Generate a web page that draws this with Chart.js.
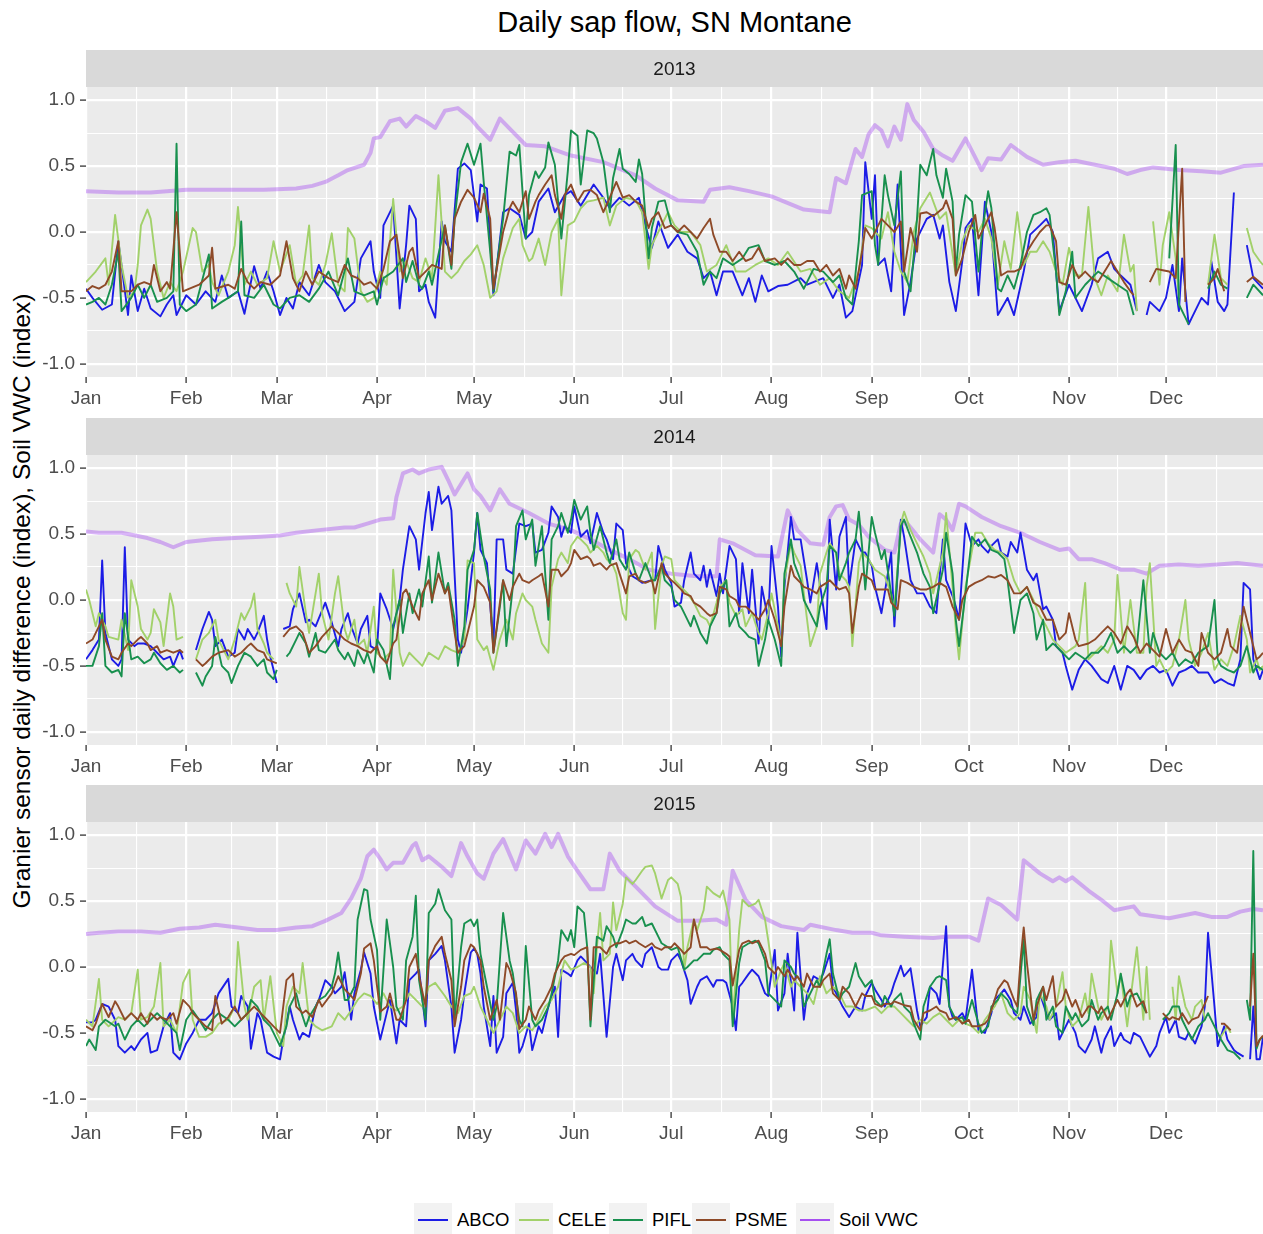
<!DOCTYPE html>
<html>
<head>
<meta charset="utf-8">
<title>Daily sap flow, SN Montane</title>
<script src="https://cdn.jsdelivr.net/npm/chart.js@4.4.1/dist/chart.umd.min.js"></script>
<style>
  html, body { margin: 0; padding: 0; background: #ffffff; }
  body { position: relative; width: 1263px; height: 1234px; overflow: hidden;
         font-family: "Liberation Sans", Arial, sans-serif; }
  canvas { position: absolute; left: 0; }
  #title { position: absolute; left: 86px; width: 1177px; top: 5px; line-height: 34px;
           text-align: center; font-size: 29px; color: #000; white-space: nowrap; }
  #ylab { position: absolute; left: -378px; top: 587px; width: 800px; height: 28px; line-height: 28px;
          text-align: center; font-size: 24.5px; color: #000; transform: rotate(-90deg); white-space: nowrap; }
  .key { position: absolute; top: 1203px; width: 38px; height: 34px; background: #F2F2F2; }
  .key span { position: absolute; left: 4px; width: 30px; top: 16px; height: 2.4px; }
  .lab { position: absolute; top: 1203px; height: 34px; line-height: 34px; font-size: 18.5px; color: #000; white-space: nowrap; }
</style>
</head>
<body>
<div id="title">Daily sap flow, SN Montane</div>
<div id="ylab">Granier sensor daily difference (index), Soil VWC (index)</div>
<canvas id="p2013" width="1263" height="362" style="top:50px"></canvas>
<canvas id="p2014" width="1263" height="362" style="top:418px"></canvas>
<canvas id="p2015" width="1263" height="362" style="top:785px"></canvas>
<div id="legend"></div>

<script>
// ---- axis breaks -------------------------------------------------------
const MONTHS = ['Jan','Feb','Mar','Apr','May','Jun','Jul','Aug','Sep','Oct','Nov','Dec'];
const MONTH_START = [0,31,59,90,120,151,181,212,243,273,304,334];
const MONTH_MID = [15.5,45,74.5,105,135.5,166,196.5,227.5,258,288.5,319,349.5];
const Y_TICKS = [-1,-0.75,-0.5,-0.25,0,0.25,0.5,0.75,1];
const YEARS = ['2013','2014','2015'];
const SERIES = ['ABCO','CELE','PIFL','PSME','Soil VWC'];

// ---- daily values: [day of year (0 = Jan 1), index]; null marks missing days ----
const abco2013 = [[0,-0.43],[2,-0.5],[5,-0.59],[8,-0.55],[10,-0.07],[13,-0.63],[14,-0.33],[16,-0.6],[18,-0.43],[20,-0.58],[23,-0.64],[25,-0.55],[27,-0.48],[28,-0.63],[31,-0.48],[34,-0.55],[37,-0.45],[40,-0.53],[42,-0.33],[44,-0.5],[47,-0.45],[49,-0.62],[52,-0.26],[54,-0.43],[56,-0.3],[58,-0.45],[60,-0.63],[62,-0.5],[64,-0.58],[66,-0.38],[69,-0.48],[72,-0.25],[74,-0.38],[77,-0.45],[80,-0.6],[83,-0.53],[85,-0.2],[88,-0.07],[89,-0.3],[91,-0.5],[92,0.05],[95,0.2],[97,-0.58],[99,-0.1],[100,0.2],[102,0.1],[103,-0.45],[105,-0.4],[106,-0.53],[108,-0.65],[110,0.08],[111,-0.07],[113,-0.15],[115,0.48],[117,0.52],[119,0.47],[121,0.08],[122,0.36],[124,0.33],[126,-0.48],[129,0.15],[131,0.18],[134,0.13],[136,-0.05],[138,0],[140,0.23],[143,0.33],[145,0.15],[148,0.28],[150,0.31],[153,0.2],[157,0.36],[160,0.26],[162,0.18],[165,0.26],[168,0.2],[171,0.26],[173,0.05],[175,-0.12],[177,0.08],[180,-0.12],[183,-0.02],[186,-0.15],[189,-0.2],[191,-0.35],[193,-0.3],[195,-0.48],[197,-0.3],[200,-0.3],[203,-0.48],[205,-0.35],[207,-0.53],[209,-0.33],[211,-0.45],[214,-0.41],[217,-0.4],[221,-0.35],[223,-0.4],[228,-0.35],[231,-0.5],[233,-0.4],[235,-0.65],[237,-0.6],[240,-0.25],[241,0.53],[243,0.1],[244,0.43],[245,-0.25],[247,-0.2],[249,-0.45],[251,0.36],[253,-0.63],[255,-0.38],[257,-0.05],[260,0.1],[262,0.13],[264,-0.05],[265,0.05],[267,-0.38],[269,-0.6],[271,-0.22],[272,0.03],[274,0.1],[276,-0.48],[278,0.23],[280,0],[282,-0.63],[285,-0.5],[287,-0.63],[290,-0.3],[292,-0.02],[295,0.05],[297,0.1],[299,0],[301,-0.6],[304,-0.4],[306,-0.5],[308,-0.6],[311,-0.4],[313,-0.2],[316,-0.15],[318,-0.28],[320,-0.33],[323,-0.4],[325,-0.6],[326,null],[328,-0.63],[329,-0.53],[332,-0.6],[334,-0.5],[336,-0.25],[338,-0.6],[339,-0.2],[341,-0.7],[342,-0.65],[345,-0.5],[347,-0.55],[348,-0.22],[350,-0.53],[352,-0.6],[353,-0.55],[355,0.3],[357,null],[359,-0.1],[361,-0.35],[364,-0.43]];
const cele2013 = [[0,-0.38],[3,-0.3],[6,-0.2],[7,-0.4],[9,0.13],[11,-0.25],[13,-0.5],[15,-0.45],[16,-0.25],[17,0.05],[19,0.17],[20,0.1],[22,-0.3],[24,-0.5],[26,-0.38],[28,-0.45],[30,-0.3],[33,0.03],[34,0],[36,-0.3],[38,-0.25],[39,-0.38],[41,-0.48],[44,-0.3],[46,-0.1],[47,0.19],[49,-0.4],[51,-0.3],[53,-0.4],[56,-0.35],[58,-0.07],[60,-0.3],[63,-0.1],[65,-0.4],[67,-0.33],[69,0.05],[70,-0.35],[72,-0.4],[74,-0.25],[76,-0.01],[78,-0.4],[80,-0.45],[81,0.03],[83,-0.05],[85,-0.45],[87,-0.53],[89,-0.5],[91,-0.3],[93,-0.4],[95,0.25],[97,-0.3],[99,-0.22],[101,-0.35],[103,-0.38],[105,-0.2],[107,-0.35],[109,0.43],[111,-0.3],[113,-0.35],[115,-0.3],[117,-0.22],[119,-0.17],[121,-0.1],[123,-0.25],[125,-0.5],[127,-0.45],[129,-0.2],[132,0.03],[134,0.1],[135,-0.1],[137,-0.22],[138,-0.2],[140,-0.05],[142,-0.25],[144,0],[146,0.1],[147,-0.48],[149,0.05],[151,0.08],[153,0.18],[155,0.23],[157,0.24],[160,0.26],[162,0.05],[164,0.2],[167,0.26],[170,0.24],[172,0.15],[174,-0.28],[175,-0.1],[177,0],[180,0.15],[182,0.05],[184,0],[187,0],[190,-0.1],[192,-0.3],[195,-0.25],[198,-0.1],[201,-0.3],[204,-0.3],[207,-0.25],[211,-0.2],[214,-0.25],[217,-0.15],[221,-0.3],[224,-0.28],[227,-0.4],[230,-0.35],[233,-0.45],[236,-0.5],[239,-0.3],[241,0.05],[243,0.03],[246,-0.05],[248,0.15],[250,-0.15],[252,-0.3],[254,-0.38],[256,0],[258,0.18],[261,0.3],[264,0.1],[266,0.15],[269,-0.33],[271,-0.07],[273,0.05],[276,0],[278,0.1],[280,-0.05],[282,-0.4],[284,-0.07],[286,-0.28],[288,0.15],[290,-0.25],[292,-0.15],[294,-0.15],[296,-0.07],[298,-0.15],[300,-0.3],[302,-0.4],[304,-0.12],[306,-0.33],[308,-0.33],[310,0.19],[312,-0.35],[314,-0.48],[316,-0.33],[319,-0.45],[321,-0.02],[323,-0.3],[324,-0.25],[325,-0.6],[326,null],[330,0.08],[332,-0.4],[333,-0.1],[335,0.15],[337,-0.2],[338,-0.5],[340,null],[347,-0.4],[349,-0.02],[351,-0.35],[353,-0.4],[355,null],[359,0.03],[361,-0.15],[363,-0.22],[364,-0.25]];
const pifl2013 = [[0,-0.55],[2,-0.53],[4,-0.5],[6,-0.55],[8,-0.4],[10,-0.15],[11,-0.6],[14,-0.5],[16,-0.4],[18,-0.5],[20,-0.4],[22,-0.53],[25,-0.5],[27,-0.45],[28,0.67],[29,-0.55],[31,-0.6],[34,-0.55],[38,-0.17],[39,-0.58],[42,-0.53],[44,-0.5],[47,-0.45],[48,0.08],[49,-0.48],[52,-0.5],[55,-0.4],[58,-0.55],[60,-0.58],[63,-0.5],[66,-0.48],[69,-0.53],[72,-0.43],[75,-0.3],[78,-0.48],[81,-0.2],[83,-0.45],[86,-0.48],[89,-0.45],[90,-0.55],[92,-0.35],[95,-0.3],[98,-0.2],[99,-0.38],[101,-0.22],[103,-0.4],[104,-0.43],[106,-0.3],[107,-0.4],[109,-0.17],[111,0.05],[113,-0.28],[114,0.1],[116,0.53],[118,0.67],[120,0.51],[122,0.67],[123,0.38],[125,-0.15],[126,-0.45],[129,0.1],[131,0.61],[133,0.58],[134,0.66],[136,-0.05],[137,0.28],[139,0.46],[140,0.41],[142,0.49],[143,0.68],[145,0.51],[147,-0.05],[149,0.46],[150,0.77],[152,0.73],[153,0.36],[155,0.77],[157,0.75],[158,0.71],[160,0.53],[162,0.15],[163,0.41],[165,0.63],[166,0.48],[168,0.44],[170,0.38],[171,0.55],[172,0.44],[174,-0.2],[175,0.03],[177,0.23],[179,0.24],[181,0.05],[183,0],[186,-0.02],[189,-0.15],[191,-0.4],[193,-0.3],[195,-0.35],[197,-0.2],[200,-0.25],[203,-0.2],[205,-0.12],[208,-0.1],[210,-0.22],[213,-0.25],[216,-0.22],[219,-0.3],[222,-0.43],[225,-0.28],[228,-0.3],[231,-0.38],[233,-0.33],[235,-0.5],[237,-0.55],[239,-0.07],[240,0.28],[243,0.31],[244,-0.1],[245,-0.25],[247,0.43],[248,0.28],[250,0.05],[252,0.46],[253,-0.3],[255,-0.45],[257,0.1],[258,0.51],[260,0.43],[262,0.63],[263,0.43],[265,0.26],[266,0.48],[268,0.23],[269,-0.3],[270,-0.02],[272,0.28],[274,0.23],[276,-0.3],[277,-0.02],[279,0.31],[280,0.18],[282,-0.43],[283,-0.45],[285,-0.33],[287,-0.43],[289,-0.25],[291,0],[293,0.13],[295,0.15],[297,0.18],[298,0.13],[300,-0.3],[301,-0.63],[303,-0.45],[305,-0.15],[306,-0.5],[309,-0.4],[313,-0.3],[316,-0.35],[319,-0.4],[322,-0.45],[324,-0.63],[325,null],[335,-0.2],[337,0.66],[338,-0.55],[340,-0.65],[341,-0.7],[343,null],[347,-0.43],[349,-0.3],[351,-0.4],[353,-0.43],[355,null],[359,-0.5],[361,-0.4],[364,-0.48]];
const psme2013 = [[0,-0.45],[2,-0.41],[4,-0.43],[6,-0.4],[8,-0.3],[10,-0.07],[11,-0.45],[14,-0.45],[16,-0.4],[18,-0.38],[20,-0.4],[21,-0.25],[23,-0.45],[25,-0.38],[26,-0.43],[28,0.15],[30,-0.45],[32,-0.43],[35,-0.4],[38,-0.33],[39,-0.12],[40,-0.43],[44,-0.4],[46,-0.43],[48,-0.28],[50,-0.38],[52,-0.43],[54,-0.38],[57,-0.4],[60,-0.33],[62,-0.07],[64,-0.35],[66,-0.45],[68,-0.3],[70,-0.4],[72,-0.3],[75,-0.35],[78,-0.38],[80,-0.25],[82,-0.33],[84,-0.35],[86,-0.4],[88,-0.38],[90,-0.43],[92,-0.28],[94,-0.07],[96,-0.02],[98,-0.35],[100,-0.15],[101,-0.12],[103,-0.35],[105,-0.3],[107,-0.25],[110,-0.28],[111,0.05],[113,-0.25],[114,0.1],[116,0.23],[118,0.32],[120,0.26],[122,0.15],[123,0.29],[125,0.1],[126,-0.43],[129,0],[131,0.18],[132,0.23],[134,0.15],[136,0.31],[137,0.1],[139,0.23],[140,0.28],[142,0.36],[144,0.43],[145,0.28],[147,0.1],[148,0.28],[150,0.36],[152,0.23],[154,0.31],[156,0.32],[158,0.28],[160,0.15],[162,0.26],[164,0.38],[166,0.26],[168,0.28],[170,0.23],[172,0.2],[174,0.03],[175,0.1],[177,0.15],[179,0.03],[181,0.05],[183,0],[185,0.05],[187,0],[189,-0.05],[191,0.03],[193,0.1],[194,-0.02],[196,-0.15],[198,-0.15],[200,-0.22],[202,-0.15],[204,-0.22],[206,-0.2],[208,-0.12],[210,-0.22],[213,-0.2],[215,-0.25],[217,-0.2],[219,-0.25],[221,-0.25],[223,-0.22],[225,-0.22],[227,-0.3],[229,-0.25],[231,-0.33],[233,-0.28],[235,-0.43],[236,-0.33],[238,-0.43],[240,-0.15],[241,0.03],[243,-0.05],[246,0.1],[248,0.05],[250,0],[252,0.08],[253,-0.3],[255,0.03],[257,-0.15],[258,0.14],[260,0.15],[262,0.12],[265,0.18],[266,0.24],[268,0.1],[269,-0.33],[271,-0.2],[273,0],[275,0.13],[276,-0.05],[278,0.05],[280,0.15],[281,0.03],[283,-0.33],[285,-0.3],[287,-0.3],[289,-0.28],[291,-0.15],[293,-0.07],[295,0],[297,0.05],[298,0.05],[300,-0.07],[301,-0.38],[303,-0.4],[305,-0.25],[307,-0.35],[309,-0.3],[311,-0.35],[313,-0.38],[315,-0.3],[317,-0.22],[319,-0.3],[321,-0.38],[323,-0.45],[324,-0.48],[326,null],[329,-0.38],[331,-0.28],[333,-0.29],[335,-0.3],[337,-0.35],[339,0.48],[340,-0.53],[342,null],[347,-0.4],[349,-0.35],[350,-0.28],[352,-0.45],[354,null],[359,-0.38],[361,-0.34],[364,-0.4]];
const vwc2013 = [[0,0.31],[10,0.3],[20,0.3],[25,0.31],[31,0.32],[45,0.32],[55,0.32],[65,0.33],[70,0.35],[74,0.38],[78,0.43],[81,0.47],[86,0.51],[88,0.6],[89,0.71],[91,0.72],[94,0.84],[97,0.86],[99,0.8],[102,0.88],[105,0.84],[108,0.79],[111,0.92],[115,0.94],[117,0.9],[119,0.86],[121,0.8],[125,0.7],[128,0.86],[132,0.76],[136,0.66],[142,0.65],[150,0.58],[160,0.53],[170,0.43],[176,0.33],[183,0.24],[191,0.23],[193,0.32],[199,0.34],[205,0.31],[212,0.27],[222,0.17],[230,0.15],[232,0.41],[235,0.37],[238,0.63],[240,0.57],[242,0.74],[244,0.81],[246,0.77],[248,0.65],[250,0.8],[252,0.7],[254,0.97],[256,0.85],[259,0.76],[262,0.63],[265,0.58],[268,0.54],[272,0.71],[277,0.47],[279,0.56],[283,0.55],[286,0.66],[291,0.57],[296,0.51],[301,0.53],[306,0.54],[312,0.51],[318,0.48],[322,0.44],[326,0.47],[330,0.49],[338,0.47],[345,0.46],[351,0.45],[358,0.5],[364,0.51]];

const abco2014 = [[0,-0.45],[2,-0.38],[4,-0.3],[5,0.3],[6,-0.25],[8,-0.45],[10,-0.5],[11,-0.45],[12,0.4],[13,-0.3],[15,-0.35],[16,-0.33],[18,-0.33],[20,-0.35],[22,-0.4],[24,-0.45],[26,-0.43],[27,-0.5],[29,-0.38],[30,-0.45],[31,null],[34,-0.38],[36,-0.22],[38,-0.09],[39,-0.15],[40,-0.35],[42,-0.3],[44,-0.43],[46,-0.4],[47,-0.22],[49,-0.3],[50,-0.22],[52,-0.3],[53,-0.25],[55,-0.12],[56,-0.3],[57,-0.43],[59,-0.63],[60,null],[61,-0.22],[63,-0.2],[64,-0.07],[66,0.05],[68,-0.17],[69,-0.15],[71,-0.2],[74,-0.02],[76,-0.17],[78,-0.35],[79,-0.22],[81,-0.1],[82,-0.2],[84,-0.33],[85,-0.22],[87,-0.12],[88,-0.35],[90,-0.38],[91,0.05],[93,-0.07],[95,-0.22],[97,0],[98,0.23],[100,0.56],[102,0.46],[103,0.23],[105,0.66],[106,0.82],[107,0.53],[109,0.86],[110,0.73],[112,0.79],[113,0.68],[115,-0.3],[116,-0.4],[118,-0.07],[120,0.36],[121,0.66],[122,0.38],[124,0.28],[126,-0.35],[127,0.46],[129,0.46],[130,0.23],[132,0.2],[134,0.58],[136,0.56],[138,0.58],[139,0.36],[141,0.38],[143,0.51],[144,0.71],[146,0.63],[147,0.48],[148,0.56],[150,0.51],[151,0.71],[153,0.48],[155,0.53],[156,0.43],[158,0.66],[160,0.51],[161,0.46],[163,0.31],[164,0.58],[166,0.53],[167,0.28],[169,0.18],[171,0.15],[172,0.13],[175,0.15],[176,0.15],[177,0.41],[179,0.23],[181,0.13],[182,-0.05],[184,-0.02],[185,0.15],[187,0.36],[188,0.2],[190,0.15],[191,0.26],[192,0.1],[193,0.23],[195,0.03],[196,0.2],[197,0.05],[199,0.41],[201,0.31],[202,-0.1],[203,0.28],[205,-0.1],[206,0.23],[208,-0.33],[209,0.1],[211,-0.15],[212,0.41],[214,-0.05],[215,-0.43],[216,0.1],[218,0.63],[219,0.46],[221,0.46],[223,0.15],[224,-0.02],[226,0.28],[228,-0.05],[229,-0.22],[230,0.61],[232,0.08],[233,0.48],[235,0.63],[236,0.1],[238,0.46],[240,0.36],[241,0.36],[243,0.26],[244,0.1],[246,-0.1],[247,0.05],[249,0.36],[250,-0.2],[252,0.61],[253,0.48],[255,0.15],[257,0.05],[259,0.05],[261,-0.05],[263,-0.1],[265,0.46],[266,0.15],[268,0.03],[269,-0.05],[270,-0.15],[272,0.58],[274,0.41],[276,0.46],[277,0.41],[279,0.36],[280,0.41],[282,0.46],[283,0.36],[285,0.33],[286,0.44],[288,0.36],[289,0.51],[291,0.23],[293,0.15],[294,0.2],[296,-0.07],[297,-0.05],[299,-0.15],[300,-0.35],[302,-0.4],[303,-0.5],[305,-0.68],[307,-0.53],[309,-0.45],[311,-0.5],[314,-0.6],[316,-0.63],[318,-0.5],[320,-0.68],[322,-0.5],[324,-0.53],[326,-0.6],[328,-0.53],[330,-0.5],[332,-0.55],[334,-0.53],[336,-0.65],[338,-0.55],[340,-0.53],[342,-0.5],[344,-0.55],[347,-0.55],[349,-0.63],[351,-0.6],[353,-0.63],[355,-0.65],[357,-0.45],[358,0.13],[360,0.08],[361,-0.45],[363,-0.6],[364,-0.53]];
const cele2014 = [[0,0.08],[1,0],[3,-0.2],[4,-0.1],[6,-0.2],[7,-0.28],[10,-0.3],[11,-0.15],[13,-0.38],[14,0.15],[16,-0.05],[17,-0.22],[19,-0.3],[20,-0.25],[21,-0.07],[23,-0.17],[24,-0.35],[26,0.05],[27,-0.05],[28,-0.3],[30,-0.28],[31,null],[34,-0.45],[36,-0.3],[38,-0.25],[40,-0.15],[41,-0.3],[44,-0.45],[46,-0.3],[48,-0.1],[49,-0.15],[51,-0.05],[52,0.05],[53,-0.22],[55,-0.33],[56,-0.4],[58,-0.45],[60,null],[62,0.13],[63,0.05],[65,-0.05],[66,0.25],[68,-0.1],[69,-0.25],[70,-0.1],[72,0.2],[73,-0.1],[75,-0.3],[77,0.05],[78,0.18],[80,-0.22],[81,-0.3],[83,-0.15],[84,-0.35],[86,-0.3],[87,-0.4],[89,-0.05],[90,-0.4],[92,-0.45],[94,-0.4],[95,0.23],[97,-0.4],[98,-0.5],[100,-0.4],[102,-0.45],[104,-0.5],[106,-0.4],[109,-0.45],[111,-0.35],[113,-0.38],[115,-0.4],[117,-0.3],[118,0.3],[120,0.28],[121,-0.3],[123,-0.38],[124,-0.35],[126,-0.53],[128,-0.3],[130,-0.15],[132,-0.3],[133,-0.1],[135,0.05],[136,0],[138,-0.05],[139,-0.15],[141,-0.33],[143,-0.4],[144,0.1],[146,0.31],[147,0.36],[149,0.28],[150,0.41],[152,0.48],[153,0.46],[155,0.41],[156,0.36],[158,0.41],[160,0.36],[161,0.31],[163,0.26],[164,0.2],[166,-0.1],[167,-0.15],[168,0.31],[170,0.38],[171,0.36],[173,0.23],[175,0.36],[176,-0.22],[178,0.26],[179,0.33],[181,0.31],[182,0.15],[184,0.1],[186,0.05],[188,-0.02],[190,-0.12],[192,-0.15],[193,-0.2],[195,-0.02],[196,0.1],[198,0.15],[199,-0.02],[201,-0.12],[203,-0.07],[204,-0.2],[206,-0.1],[208,-0.25],[209,-0.3],[211,-0.1],[212,0.05],[214,-0.2],[215,-0.35],[216,0.15],[218,0.43],[219,0.36],[221,0.26],[222,0.05],[224,-0.35],[226,-0.2],[227,0.2],[229,0.36],[230,0.43],[232,0.36],[233,0.2],[235,0.15],[236,0.1],[237,-0.35],[239,0.28],[240,0.36],[242,0.31],[244,0.23],[247,0.18],[249,0.05],[250,-0.07],[252,0.58],[253,0.67],[255,0.53],[257,0.43],[259,0.33],[261,0.2],[262,0.05],[265,0.36],[266,0.66],[268,0.1],[269,-0.22],[270,-0.45],[272,0.1],[275,0.51],[277,0.51],[279,0.43],[281,0.38],[283,0.36],[285,0.31],[287,0.15],[289,0.05],[291,0.1],[293,0],[295,-0.12],[297,-0.2],[299,-0.3],[301,-0.35],[303,-0.4],[306,-0.35],[307,-0.3],[309,0.13],[310,-0.45],[312,-0.4],[314,-0.35],[316,-0.4],[318,-0.3],[319,0.19],[321,-0.4],[323,0],[325,-0.4],[327,-0.4],[328,0.1],[329,0.28],[331,-0.5],[332,-0.45],[334,-0.55],[336,-0.5],[338,-0.3],[340,0],[341,-0.3],[343,-0.5],[345,-0.4],[347,-0.25],[349,-0.53],[351,-0.45],[353,-0.5],[355,-0.35],[357,-0.12],[359,-0.3],[360,-0.55],[362,-0.45],[363,-0.53],[364,-0.5]];
const pifl2014 = [[0,-0.5],[2,-0.5],[4,-0.35],[5,-0.1],[6,-0.5],[8,-0.55],[10,-0.53],[11,-0.58],[12,-0.1],[14,-0.45],[16,-0.43],[18,-0.48],[20,-0.45],[21,-0.4],[23,-0.48],[25,-0.53],[27,-0.5],[29,-0.55],[30,-0.53],[31,null],[34,-0.55],[36,-0.65],[37,-0.58],[39,-0.5],[40,-0.28],[42,-0.5],[44,-0.55],[45,-0.63],[47,-0.5],[49,-0.4],[51,-0.43],[53,-0.5],[55,-0.45],[56,-0.55],[58,-0.6],[59,-0.53],[60,null],[62,-0.43],[63,-0.4],[65,-0.3],[66,-0.25],[68,-0.33],[69,-0.43],[71,-0.25],[72,-0.38],[74,-0.4],[77,-0.3],[78,-0.38],[80,-0.45],[81,-0.4],[83,-0.5],[84,-0.38],[86,-0.48],[87,-0.4],[89,-0.55],[90,-0.3],[92,-0.38],[94,-0.6],[95,-0.2],[97,0],[98,-0.25],[100,0.05],[101,-0.1],[103,0.08],[104,-0.05],[106,0.33],[107,-0.02],[109,0.36],[111,0.05],[112,0.13],[114,-0.15],[115,-0.5],[117,-0.2],[118,0.23],[120,0.38],[121,0.66],[123,0.33],[125,0.08],[126,-0.4],[128,-0.05],[129,0.15],[130,-0.35],[132,0.1],[133,0.56],[135,0.68],[136,0.46],[138,0.61],[139,0.26],[141,0.56],[143,-0.15],[144,0.46],[146,0.56],[147,0.66],[149,0.51],[150,0.61],[151,0.76],[153,0.61],[155,0.71],[156,0.51],[157,0.38],[159,0.56],[161,0.36],[162,0.28],[164,0.46],[165,0.31],[167,0.23],[168,0.36],[170,0.2],[171,0.15],[173,0.28],[175,0.15],[176,0.15],[178,0.26],[179,0.15],[181,0.1],[182,0],[184,-0.05],[185,-0.1],[187,-0.2],[188,-0.12],[190,-0.25],[192,-0.33],[193,-0.2],[195,-0.1],[196,0.05],[198,0.15],[199,-0.2],[201,-0.1],[202,-0.2],[204,-0.25],[205,-0.28],[207,-0.3],[208,-0.5],[210,-0.3],[211,-0.15],[213,-0.3],[215,-0.5],[216,0.2],[218,0.46],[219,0.28],[221,0.15],[222,0],[224,-0.1],[226,-0.2],[227,-0.05],[229,0.1],[230,0.41],[232,0.36],[233,0.15],[235,0.28],[236,0.36],[238,0.46],[239,0.67],[240,0.41],[241,0.08],[243,0.63],[244,0.51],[246,0.31],[247,0.38],[249,0.05],[250,-0.12],[252,0.56],[253,0.61],[255,0.48],[257,0.36],[259,0.2],[261,0.1],[262,-0.1],[265,0.23],[266,0.51],[268,0.2],[269,-0.15],[270,-0.35],[272,0.05],[274,0.48],[276,0.41],[278,0.46],[280,0.38],[282,0.36],[284,0.31],[285,0.15],[287,-0.25],[289,0],[291,0.05],[293,-0.1],[294,-0.3],[296,-0.15],[297,-0.38],[299,-0.33],[300,-0.35],[302,-0.4],[304,-0.45],[306,-0.4],[309,-0.45],[311,-0.4],[313,-0.4],[315,-0.35],[317,-0.25],[319,-0.4],[321,-0.35],[323,-0.4],[325,-0.35],[327,0.15],[329,-0.4],[330,-0.25],[332,-0.4],[334,-0.45],[336,-0.4],[338,-0.5],[340,-0.45],[342,-0.48],[344,-0.4],[347,-0.35],[349,0],[350,-0.45],[351,-0.5],[353,-0.53],[355,-0.55],[357,-0.5],[359,-0.35],[361,-0.55],[362,-0.5],[364,-0.53]];
const psme2014 = [[0,-0.33],[2,-0.3],[4,-0.2],[5,-0.15],[6,-0.3],[8,-0.43],[10,-0.45],[11,-0.4],[13,-0.33],[14,-0.35],[16,-0.3],[17,-0.28],[19,-0.33],[20,-0.38],[22,-0.35],[23,-0.4],[25,-0.38],[27,-0.4],[29,-0.38],[30,-0.4],[31,null],[34,-0.45],[36,-0.5],[37,-0.48],[39,-0.43],[41,-0.4],[44,-0.38],[46,-0.43],[48,-0.4],[50,-0.35],[51,-0.33],[53,-0.38],[55,-0.4],[56,-0.45],[59,-0.48],[60,null],[61,-0.28],[63,-0.22],[65,-0.2],[67,-0.25],[69,-0.4],[71,-0.35],[73,-0.28],[76,-0.2],[78,-0.25],[80,-0.3],[82,-0.33],[84,-0.35],[86,-0.38],[88,-0.4],[90,-0.35],[91,-0.43],[93,-0.48],[95,-0.33],[96,-0.3],[98,0.05],[99,0.08],[101,-0.05],[103,-0.15],[104,0.05],[106,0.15],[107,0],[109,0.2],[111,0.05],[112,0.1],[114,-0.25],[115,-0.4],[117,-0.35],[118,-0.25],[120,-0.05],[121,0.15],[123,0.1],[125,-0.02],[126,-0.4],[128,-0.02],[129,0.15],[131,0],[132,0.1],[134,0.2],[135,0.15],[137,0.13],[138,0.15],[140,0.18],[141,0.2],[143,-0.05],[144,0.23],[146,0.23],[147,0.18],[149,0.23],[150,0.28],[151,0.38],[153,0.31],[155,0.33],[156,0.31],[157,0.26],[159,0.28],[161,0.23],[162,0.26],[164,0.28],[165,0.2],[167,0.05],[168,0.18],[170,0.2],[171,0.15],[173,0.13],[175,0.15],[176,0.05],[178,0.28],[179,0.2],[181,0.15],[182,0.13],[184,0.08],[185,0.05],[187,0.03],[188,-0.02],[190,-0.05],[192,-0.1],[193,-0.12],[195,-0.1],[196,0.1],[198,0.08],[199,0.03],[201,0],[202,-0.05],[204,-0.05],[205,-0.07],[207,-0.12],[208,-0.15],[210,-0.07],[211,0],[213,-0.15],[215,-0.35],[216,-0.05],[218,0.26],[219,0.18],[221,0.13],[222,0.1],[224,0.08],[226,0.05],[227,0.1],[229,0.13],[230,0.15],[232,0.1],[233,0.08],[235,0.1],[236,0.05],[237,-0.25],[239,0.1],[240,0.2],[243,0.15],[244,0.08],[246,0.08],[248,0.08],[249,-0.02],[251,-0.07],[252,0.15],[254,0.13],[256,0.1],[258,0.08],[260,0.08],[262,0.1],[264,0.13],[266,0.1],[268,-0.05],[270,-0.15],[271,0],[273,0.1],[275,0.13],[277,0.15],[279,0.18],[281,0.17],[283,0.19],[285,0.15],[287,0.05],[289,0.05],[291,0.1],[293,-0.02],[295,-0.05],[297,-0.15],[299,-0.15],[301,-0.3],[303,-0.25],[304,-0.1],[306,-0.3],[307,-0.35],[310,-0.33],[312,-0.3],[314,-0.25],[316,-0.2],[318,-0.25],[320,-0.33],[322,-0.2],[324,-0.28],[326,-0.4],[328,-0.33],[330,-0.38],[332,-0.43],[334,-0.22],[336,-0.4],[338,-0.3],[340,-0.38],[342,-0.4],[344,-0.5],[345,-0.25],[347,-0.4],[349,-0.45],[351,-0.4],[353,-0.22],[354,-0.35],[356,-0.4],[358,-0.05],[360,-0.25],[362,-0.45],[363,-0.43],[364,-0.4]];
const vwc2014 = [[0,0.52],[4,0.51],[11,0.51],[19,0.47],[23,0.44],[27,0.4],[31,0.44],[39,0.46],[46,0.47],[54,0.48],[60,0.49],[65,0.51],[72,0.53],[80,0.55],[83,0.55],[87,0.58],[91,0.61],[95,0.62],[96,0.78],[98,0.96],[101,0.99],[103,0.96],[106,0.99],[110,1.01],[112,0.91],[114,0.8],[118,0.96],[120,0.84],[122,0.79],[125,0.68],[128,0.84],[131,0.73],[137,0.66],[143,0.58],[150,0.53],[156,0.46],[162,0.38],[168,0.31],[174,0.23],[181,0.2],[189,0.18],[195,0.18],[196,0.46],[200,0.43],[207,0.34],[214,0.33],[217,0.68],[220,0.53],[224,0.43],[228,0.42],[230,0.63],[232,0.71],[234,0.72],[236,0.61],[239,0.57],[242,0.48],[247,0.38],[250,0.36],[252,0.58],[254,0.58],[258,0.46],[262,0.36],[264,0.65],[266,0.61],[268,0.53],[270,0.73],[272,0.71],[277,0.63],[283,0.56],[289,0.51],[295,0.44],[301,0.38],[304,0.39],[307,0.31],[311,0.31],[315,0.28],[320,0.23],[324,0.23],[328,0.2],[332,0.26],[338,0.27],[344,0.26],[350,0.27],[356,0.28],[364,0.26]];

const abco2015 = [[0,-0.42],[2,-0.42],[3,-0.4],[5,-0.28],[7,-0.3],[9,-0.4],[10,-0.6],[12,-0.65],[14,-0.6],[15,-0.63],[17,-0.55],[19,-0.5],[20,-0.65],[22,-0.63],[24,-0.45],[26,-0.35],[27,-0.65],[29,-0.7],[31,-0.58],[33,-0.5],[35,-0.4],[37,-0.4],[39,-0.35],[41,-0.2],[44,-0.09],[45,-0.3],[47,-0.35],[48,-0.22],[50,-0.3],[51,-0.62],[53,-0.35],[54,-0.4],[56,-0.65],[58,-0.68],[60,-0.7],[61,-0.55],[63,-0.3],[64,-0.4],[66,-0.55],[67,-0.5],[69,-0.53],[71,-0.3],[72,-0.25],[74,-0.1],[76,-0.15],[77,-0.2],[79,-0.15],[80,-0.04],[82,-0.4],[83,-0.2],[85,-0.02],[86,0.11],[88,-0.05],[89,-0.3],[91,-0.55],[93,-0.35],[94,-0.25],[96,-0.58],[97,-0.4],[99,-0.45],[100,-0.1],[102,-0.05],[103,-0.02],[105,-0.45],[106,0.05],[108,0.1],[110,0.16],[111,0.05],[113,-0.3],[114,-0.65],[116,-0.4],[117,-0.2],[119,0.11],[120,0.14],[121,0.1],[122,-0.05],[123,-0.3],[125,-0.6],[126,-0.22],[127,-0.65],[129,-0.53],[130,-0.2],[132,-0.12],[133,-0.33],[134,-0.65],[135,-0.6],[137,-0.43],[138,-0.63],[140,-0.45],[141,-0.5],[143,-0.3],[145,-0.15],[146,-0.53],[147,-0.02],[149,-0.05],[150,-0.07],[152,0.05],[153,0.08],[155,0.03],[156,0],[158,-0.05],[159,0.1],[161,-0.53],[163,0],[164,0.1],[166,-0.1],[167,0.05],[169,0.1],[170,0.05],[172,0],[173,0.1],[175,0.15],[177,0],[178,-0.02],[180,-0.02],[181,0.05],[183,0.1],[184,0.05],[186,-0.1],[187,-0.28],[189,-0.15],[190,-0.1],[192,-0.07],[194,-0.15],[195,-0.1],[197,-0.1],[198,-0.12],[200,-0.3],[201,-0.48],[202,-0.15],[203,-0.12],[205,-0.05],[206,-0.02],[208,-0.07],[210,-0.2],[211,-0.22],[213,0.13],[214,-0.33],[216,-0.2],[217,0.1],[219,-0.33],[220,0.26],[222,-0.4],[223,-0.2],[225,-0.07],[227,-0.1],[228,-0.05],[230,0.1],[231,-0.15],[233,-0.25],[234,-0.3],[236,-0.38],[238,-0.3],[240,-0.33],[241,-0.22],[243,-0.12],[244,-0.17],[246,-0.25],[247,-0.3],[249,-0.2],[250,-0.12],[252,0.01],[253,-0.07],[255,-0.01],[257,-0.33],[258,-0.45],[260,-0.38],[261,-0.15],[263,-0.2],[264,-0.28],[266,0.31],[267,-0.3],[268,-0.38],[269,-0.4],[271,-0.35],[272,-0.4],[274,-0.02],[276,-0.48],[278,-0.5],[280,-0.35],[281,-0.25],[283,-0.2],[284,-0.17],[286,-0.25],[287,-0.35],[289,-0.4],[290,-0.3],[292,-0.43],[294,-0.38],[295,-0.2],[297,-0.35],[298,-0.4],[300,-0.35],[301,-0.55],[303,-0.45],[304,-0.4],[306,-0.5],[307,-0.6],[309,-0.65],[311,-0.55],[312,-0.45],[314,-0.65],[315,-0.55],[317,-0.45],[318,-0.6],[320,-0.5],[321,-0.55],[323,-0.58],[324,-0.5],[326,-0.53],[328,-0.63],[329,-0.68],[331,-0.6],[332,-0.5],[334,-0.38],[335,-0.5],[337,-0.4],[338,-0.53],[340,-0.55],[341,-0.5],[343,-0.58],[345,-0.45],[346,-0.3],[347,0.26],[349,-0.3],[350,-0.6],[352,-0.45],[353,-0.55],[355,-0.63],[356,-0.65],[358,-0.68],[359,null],[360,-0.7],[361,-0.3],[362,-0.7],[363,-0.7],[364,-0.53]];
const cele2015 = [[0,-0.4],[2,-0.45],[4,-0.09],[5,-0.4],[7,-0.45],[10,-0.38],[12,-0.4],[14,-0.35],[16,-0.02],[17,-0.4],[19,-0.38],[21,-0.3],[23,0.03],[24,-0.45],[26,-0.4],[28,-0.5],[30,-0.12],[32,-0.02],[33,-0.4],[35,-0.53],[37,-0.53],[39,-0.5],[41,-0.43],[44,-0.4],[46,-0.3],[47,0.19],[49,-0.3],[50,-0.4],[52,-0.15],[54,-0.1],[55,-0.4],[57,-0.07],[59,-0.5],[61,-0.6],[62,-0.3],[64,-0.15],[66,-0.2],[67,0.03],[69,-0.4],[71,-0.45],[73,-0.48],[76,-0.45],[78,-0.35],[80,-0.4],[82,-0.33],[84,-0.25],[86,-0.2],[88,-0.22],[90,-0.28],[92,-0.2],[94,-0.3],[96,-0.33],[98,-0.3],[100,-0.2],[102,-0.25],[104,-0.3],[106,-0.15],[108,-0.12],[111,-0.22],[113,-0.3],[115,-0.35],[117,-0.22],[119,-0.2],[120,-0.15],[122,-0.3],[124,-0.4],[126,-0.5],[128,-0.4],[130,-0.3],[132,-0.35],[134,-0.5],[136,-0.45],[138,-0.48],[140,-0.4],[142,-0.3],[144,-0.25],[146,-0.15],[148,0.05],[150,-0.02],[152,0],[154,0.03],[156,0],[157,-0.2],[158,0.15],[159,0.41],[160,0.05],[162,0.1],[163,0.49],[164,0.28],[166,0.48],[167,0.68],[169,0.63],[170,0.66],[172,0.73],[173,0.76],[175,0.77],[176,0.71],[178,0.52],[180,0.66],[181,0.68],[183,0.63],[184,0.53],[185,-0.02],[186,0.15],[188,0.36],[189,0.28],[191,0.43],[192,0.61],[194,0.56],[196,0.53],[197,0.58],[199,0.36],[200,-0.4],[202,0.28],[203,0.51],[205,0.46],[207,0.48],[208,0.51],[210,0.36],[211,0.2],[213,-0.15],[215,-0.02],[216,0.03],[218,-0.15],[219,-0.1],[221,-0.15],[223,-0.2],[225,-0.28],[227,-0.07],[229,-0.2],[231,-0.15],[233,-0.2],[235,-0.3],[237,-0.3],[239,-0.33],[241,-0.33],[244,-0.3],[246,-0.35],[248,-0.3],[250,-0.3],[252,-0.35],[254,-0.4],[256,-0.45],[258,-0.4],[260,-0.43],[262,-0.38],[264,-0.35],[266,-0.4],[268,-0.45],[270,-0.4],[272,-0.43],[274,-0.45],[276,-0.5],[278,-0.4],[281,-0.3],[283,-0.2],[285,-0.35],[287,-0.4],[289,-0.35],[290,-0.15],[292,-0.25],[294,-0.5],[295,-0.2],[297,-0.3],[298,-0.4],[300,-0.3],[302,-0.04],[303,-0.3],[305,-0.45],[307,-0.4],[309,-0.2],[310,-0.35],[311,-0.05],[313,-0.3],[314,-0.4],[316,-0.3],[317,0.2],[319,-0.2],[320,-0.05],[322,-0.45],[323,-0.25],[325,0.15],[327,-0.4],[328,0],[329,-0.4],[330,null],[336,-0.15],[337,-0.4],[338,-0.07],[340,-0.3],[342,-0.4],[343,-0.3],[345,-0.25],[346,-0.4],[347,null],[351,-0.53],[353,-0.45],[354,-0.5],[355,null]];
const pifl2015 = [[0,-0.6],[1,-0.55],[3,-0.63],[4,-0.45],[6,-0.4],[9,-0.45],[10,-0.43],[12,-0.55],[14,-0.45],[16,-0.4],[18,-0.45],[20,-0.4],[22,-0.35],[24,-0.4],[26,-0.45],[28,-0.5],[29,-0.63],[31,-0.4],[33,-0.33],[35,-0.4],[37,-0.48],[39,-0.4],[41,-0.35],[44,-0.4],[46,-0.45],[48,-0.4],[50,-0.35],[51,-0.25],[53,-0.3],[55,-0.4],[57,-0.45],[58,-0.5],[60,-0.6],[62,-0.45],[63,-0.3],[65,-0.2],[66,-0.3],[68,-0.45],[69,-0.38],[71,-0.3],[72,-0.25],[74,-0.22],[76,-0.15],[77,-0.05],[78,0.11],[80,-0.25],[81,-0.25],[83,-0.15],[84,0.36],[86,0.59],[87,0.58],[88,0.36],[90,0.13],[91,-0.4],[93,0.36],[95,0],[96,-0.3],[98,-0.4],[99,0.05],[101,0.23],[102,0.54],[103,-0.1],[105,-0.4],[106,0.41],[108,0.48],[109,0.59],[111,0.43],[113,0.36],[114,-0.4],[116,0.15],[117,0.33],[119,0.36],[120,0.31],[121,0.36],[122,0.1],[124,-0.15],[126,-0.4],[127,-0.3],[129,0.41],[131,0.05],[132,-0.05],[134,-0.4],[135,-0.45],[136,0.16],[138,-0.4],[139,-0.45],[141,-0.4],[143,-0.3],[144,-0.2],[146,0.05],[147,0.28],[149,0.2],[150,0.28],[151,0.15],[152,0.46],[154,0.41],[155,0.15],[156,-0.45],[158,0.23],[160,0.2],[161,0.31],[163,0.23],[164,0.15],[166,0.28],[167,0.36],[169,0.33],[170,0.33],[172,0.38],[173,0.31],[175,0.33],[177,0.23],[178,0.18],[180,0.15],[181,0.13],[183,0.15],[185,-0.02],[186,0],[188,0.05],[189,0.05],[191,0.1],[193,0.1],[194,0.13],[196,0.15],[197,0.1],[199,0.05],[200,-0.45],[202,0.03],[203,0.15],[205,0.18],[207,0.2],[208,0.18],[210,0.05],[211,-0.2],[213,-0.25],[215,-0.3],[216,0.05],[218,0],[219,-0.05],[221,-0.1],[222,-0.3],[224,-0.2],[226,-0.1],[227,-0.15],[229,0.1],[230,0.21],[231,-0.05],[233,-0.25],[234,-0.2],[236,-0.15],[238,0.03],[239,-0.07],[241,-0.15],[243,-0.1],[244,-0.25],[246,-0.3],[247,-0.22],[249,-0.3],[250,-0.25],[252,-0.2],[253,-0.3],[255,-0.35],[256,-0.43],[258,-0.55],[259,-0.3],[261,-0.15],[263,-0.08],[264,-0.07],[266,-0.1],[267,-0.3],[268,-0.35],[269,-0.4],[271,-0.38],[272,-0.43],[274,-0.25],[276,-0.43],[277,-0.5],[279,-0.45],[280,-0.3],[282,-0.25],[283,-0.2],[285,-0.25],[286,-0.3],[288,-0.35],[289,-0.07],[290,0.21],[291,-0.3],[293,-0.44],[294,-0.25],[296,-0.15],[297,-0.4],[299,-0.3],[300,-0.45],[302,-0.5],[303,-0.3],[305,-0.4],[306,-0.35],[308,-0.45],[310,-0.4],[311,-0.25],[313,-0.4],[314,-0.35],[316,-0.3],[317,-0.4],[319,-0.2],[320,-0.05],[322,-0.3],[323,-0.22],[325,-0.2],[327,-0.3],[328,-0.35],[329,null],[333,-0.4],[335,-0.35],[336,-0.3],[338,-0.3],[339,-0.4],[341,-0.5],[342,-0.55],[344,-0.45],[346,-0.4],[347,-0.35],[349,-0.45],[351,-0.55],[353,-0.63],[355,-0.65],[357,-0.7],[358,null],[359,-0.25],[360,-0.4],[361,0.88],[362,-0.62],[363,-0.55],[364,-0.53]];
const psme2015 = [[0,-0.45],[2,-0.48],[3,-0.43],[5,-0.28],[7,-0.38],[9,-0.26],[10,-0.3],[12,-0.4],[14,-0.35],[16,-0.4],[17,-0.35],[19,-0.43],[20,-0.35],[22,-0.4],[23,-0.38],[25,-0.4],[27,-0.35],[28,-0.43],[30,-0.25],[32,-0.3],[33,-0.35],[35,-0.4],[37,-0.45],[39,-0.48],[40,-0.22],[42,-0.43],[44,-0.38],[46,-0.3],[48,-0.4],[50,-0.35],[52,-0.3],[54,-0.35],[56,-0.4],[58,-0.45],[60,-0.5],[62,-0.1],[64,-0.05],[65,-0.3],[67,-0.35],[68,-0.33],[70,-0.38],[72,-0.25],[73,-0.3],[76,-0.2],[78,-0.07],[80,-0.17],[82,-0.22],[83,-0.25],[85,-0.05],[86,0.14],[88,0.18],[89,0.05],[91,-0.34],[93,-0.3],[94,-0.2],[96,-0.4],[97,-0.4],[99,-0.25],[100,0],[102,0.1],[103,-0.07],[105,-0.3],[106,0.05],[108,0.16],[110,0.23],[111,0.1],[113,-0.1],[114,-0.45],[116,-0.15],[117,0.05],[119,0.17],[120,0.15],[122,0.05],[123,-0.15],[125,-0.4],[127,-0.25],[128,-0.4],[130,0.03],[131,-0.02],[133,-0.2],[134,-0.47],[136,-0.4],[137,-0.3],[139,-0.4],[140,-0.33],[142,-0.25],[144,-0.15],[145,-0.05],[147,0.05],[148,0.08],[150,0.1],[151,0.09],[153,0.13],[155,0.15],[156,-0.4],[157,0.15],[159,0.15],[161,0.1],[162,0.15],[164,0.18],[165,0.18],[167,0.2],[168,0.18],[170,0.2],[171,0.18],[173,0.15],[175,0.18],[176,0.15],[178,0.13],[179,0.15],[181,0.15],[182,0.18],[184,0.13],[185,0.1],[187,0.15],[188,0.36],[190,0.15],[192,0.15],[193,0.13],[195,0.14],[196,0.13],[198,0.1],[199,0.08],[200,-0.14],[202,0.13],[203,0.18],[205,0.2],[206,0.18],[208,0.2],[210,0.1],[211,0],[213,-0.05],[214,0],[216,-0.07],[217,-0.02],[219,-0.1],[220,-0.07],[222,-0.15],[223,-0.05],[225,-0.15],[227,-0.15],[228,-0.1],[230,-0.05],[231,-0.2],[233,-0.25],[234,-0.15],[236,-0.2],[238,-0.3],[240,-0.2],[241,-0.22],[243,-0.22],[244,-0.28],[246,-0.3],[247,-0.28],[249,-0.28],[250,-0.26],[252,-0.28],[253,-0.29],[255,-0.3],[256,-0.4],[258,-0.48],[259,-0.35],[261,-0.33],[263,-0.3],[264,-0.33],[266,-0.35],[267,-0.4],[269,-0.38],[270,-0.4],[271,-0.43],[273,-0.4],[274,-0.45],[276,-0.45],[278,-0.43],[279,-0.4],[281,-0.25],[282,-0.17],[284,-0.1],[285,-0.12],[287,-0.25],[288,-0.3],[289,0.05],[290,0.3],[291,0.03],[293,-0.4],[294,-0.3],[296,-0.15],[297,-0.25],[299,-0.07],[300,-0.3],[302,-0.25],[303,-0.17],[305,-0.3],[306,-0.25],[308,-0.38],[310,-0.3],[311,-0.3],[313,-0.35],[314,-0.3],[316,-0.4],[317,-0.35],[319,-0.25],[320,-0.3],[322,-0.2],[323,-0.17],[325,-0.3],[327,-0.26],[328,-0.35],[329,null],[333,-0.35],[335,-0.4],[336,-0.38],[338,-0.4],[339,-0.35],[341,-0.43],[342,-0.4],[344,-0.38],[346,-0.28],[347,-0.22],[348,null],[351,-0.43],[352,-0.43],[354,-0.48],[355,null],[360,-0.3],[361,0.1],[362,-0.6],[363,-0.55],[364,-0.52]];
const vwc2015 = [[0,0.25],[4,0.26],[10,0.27],[17,0.27],[23,0.26],[29,0.29],[35,0.3],[40,0.32],[47,0.3],[53,0.28],[59,0.28],[65,0.3],[70,0.31],[74,0.35],[79,0.41],[82,0.52],[85,0.67],[87,0.84],[89,0.89],[91,0.82],[93,0.74],[95,0.79],[98,0.79],[101,0.92],[102,0.94],[104,0.81],[106,0.84],[110,0.76],[113,0.69],[116,0.94],[118,0.84],[121,0.71],[123,0.67],[126,0.86],[129,0.97],[133,0.74],[136,0.96],[139,0.86],[142,1.01],[144,0.91],[146,1.01],[149,0.84],[152,0.73],[156,0.59],[160,0.59],[162,0.86],[165,0.73],[170,0.61],[176,0.46],[183,0.35],[189,0.35],[195,0.36],[198,0.32],[200,0.73],[204,0.51],[209,0.38],[215,0.31],[222,0.28],[224,0.32],[232,0.28],[237,0.26],[243,0.26],[246,0.24],[253,0.23],[262,0.22],[266,0.23],[273,0.23],[276,0.2],[279,0.52],[283,0.47],[288,0.36],[290,0.81],[295,0.71],[299,0.65],[301,0.68],[303,0.65],[305,0.68],[310,0.58],[314,0.51],[318,0.43],[324,0.46],[326,0.4],[332,0.38],[335,0.37],[343,0.41],[348,0.38],[353,0.38],[357,0.42],[361,0.44],[364,0.43]];

// ---- series styling ----------------------------------------------------
const LINE_COLORS = { 'ABCO': '#1c1ce6', 'CELE': '#a2d16a', 'PIFL': '#18904e', 'PSME': '#8e4a28', 'Soil VWC': 'rgba(166,79,240,0.42)' };
const KEY_COLORS  = { 'ABCO': '#1c1ce6', 'CELE': '#a2d16a', 'PIFL': '#18904e', 'PSME': '#8e4a28', 'Soil VWC': '#a64ff0' };
const LINE_WIDTH  = { 'ABCO': 1.9, 'CELE': 1.9, 'PIFL': 1.9, 'PSME': 1.9, 'Soil VWC': 4 };
const DRAW_ORDER  = { 'ABCO': 4, 'CELE': 3, 'PIFL': 2, 'PSME': 1, 'Soil VWC': 5 };

const PANEL_DATA = {
  '2013': { 'ABCO': abco2013, 'CELE': cele2013, 'PIFL': pifl2013, 'PSME': psme2013, 'Soil VWC': vwc2013 },
  '2014': { 'ABCO': abco2014, 'CELE': cele2014, 'PIFL': pifl2014, 'PSME': psme2014, 'Soil VWC': vwc2014 },
  '2015': { 'ABCO': abco2015, 'CELE': cele2015, 'PIFL': pifl2015, 'PSME': psme2015, 'Soil VWC': vwc2015 }
};

const FONT = '"Liberation Sans", Arial, sans-serif';
const STRIP_H = 37;
Chart.defaults.font.family = FONT;

// grey panel background and the facet strip above it
const facetPanel = {
  id: 'facetPanel',
  beforeDraw(chart, args, opts) {
    const { ctx, chartArea: a } = chart;
    ctx.save();
    ctx.fillStyle = '#EBEBEB';
    ctx.fillRect(a.left, a.top, a.right - a.left, a.bottom - a.top);
    ctx.fillStyle = '#D9D9D9';
    ctx.fillRect(a.left, a.top - STRIP_H, a.right - a.left, STRIP_H);
    ctx.fillStyle = '#1A1A1A';
    ctx.font = '19px ' + FONT;
    ctx.textAlign = 'center';
    ctx.textBaseline = 'middle';
    ctx.fillText(opts.label, (a.left + a.right) / 2, a.top - STRIP_H / 2 + 1);
    ctx.restore();
  }
};

const isMajorX = v => MONTH_START.indexOf(v) >= 0;
const isMajorY = v => Math.abs(v * 2 - Math.round(v * 2)) < 1e-9;

function makePanel(year) {
  const series = PANEL_DATA[year];
  const datasets = SERIES.map(name => ({
    label: name,
    data: series[name].map(p => ({ x: p[0], y: p[1] })),
    borderColor: LINE_COLORS[name],
    backgroundColor: LINE_COLORS[name],
    borderWidth: LINE_WIDTH[name],
    pointRadius: 0,
    tension: 0,
    spanGaps: false,
    fill: false,
    order: DRAW_ORDER[name],
    borderJoinStyle: 'round',
    borderCapStyle: 'butt'
  }));
  return new Chart(document.getElementById('p' + year), {
    type: 'line',
    data: { datasets },
    plugins: [facetPanel],
    options: {
      responsive: false,
      animation: false,
      devicePixelRatio: 1,
      layout: { padding: { top: STRIP_H, right: 0, bottom: 0, left: 0 } },
      plugins: {
        legend: { display: false },
        tooltip: { enabled: false },
        facetPanel: { label: year }
      },
      scales: {
        x: {
          type: 'linear', min: 0, max: 364,
          afterBuildTicks: s => { s.ticks = MONTH_START.concat(MONTH_MID).sort((a, b) => a - b).map(v => ({ value: v })); },
          afterFit: s => { s.height = 35; },
          border: { display: false },
          grid: {
            color: '#FFFFFF',
            lineWidth: c => (c.tick && isMajorX(c.tick.value)) ? 2.2 : 1.1,
            drawTicks: true,
            tickLength: 6,
            tickWidth: 1.3,
            tickColor: c => (c.tick && isMajorX(c.tick.value)) ? '#333333' : 'rgba(0,0,0,0)'
          },
          ticks: {
            autoSkip: false, maxRotation: 0, minRotation: 0, padding: 4,
            color: '#4D4D4D', font: { size: 19, family: FONT },
            callback: v => { const i = MONTH_START.indexOf(v); return i >= 0 ? MONTHS[i] : ''; }
          }
        },
        y: {
          type: 'linear', min: -1.1, max: 1.1,
          afterBuildTicks: s => { s.ticks = Y_TICKS.map(v => ({ value: v })); },
          afterFit: s => { s.width = 86; },
          border: { display: false },
          grid: {
            color: '#FFFFFF',
            lineWidth: c => (c.tick && isMajorY(c.tick.value)) ? 2.2 : 1.1,
            drawTicks: true,
            tickLength: 6,
            tickWidth: 1.3,
            tickColor: c => (c.tick && isMajorY(c.tick.value)) ? '#333333' : 'rgba(0,0,0,0)'
          },
          ticks: {
            autoSkip: false, padding: 5,
            color: '#4D4D4D', font: { size: 19, family: FONT },
            callback: v => isMajorY(v) ? v.toFixed(1) : ''
          }
        }
      }
    }
  });
}

YEARS.forEach(makePanel);

// ---- shared legend below the panels -------------------------------------
const KEY_LEFT = { 'ABCO': 414, 'CELE': 515, 'PIFL': 609, 'PSME': 692, 'Soil VWC': 796 };
const legend = document.getElementById('legend');
SERIES.forEach(name => {
  const key = document.createElement('div');
  key.className = 'key';
  key.style.left = KEY_LEFT[name] + 'px';
  const line = document.createElement('span');
  line.style.background = KEY_COLORS[name];
  key.appendChild(line);
  legend.appendChild(key);
  const lab = document.createElement('div');
  lab.className = 'lab';
  lab.style.left = (KEY_LEFT[name] + 43) + 'px';
  lab.textContent = name;
  legend.appendChild(lab);
});
</script>
</body>
</html>
